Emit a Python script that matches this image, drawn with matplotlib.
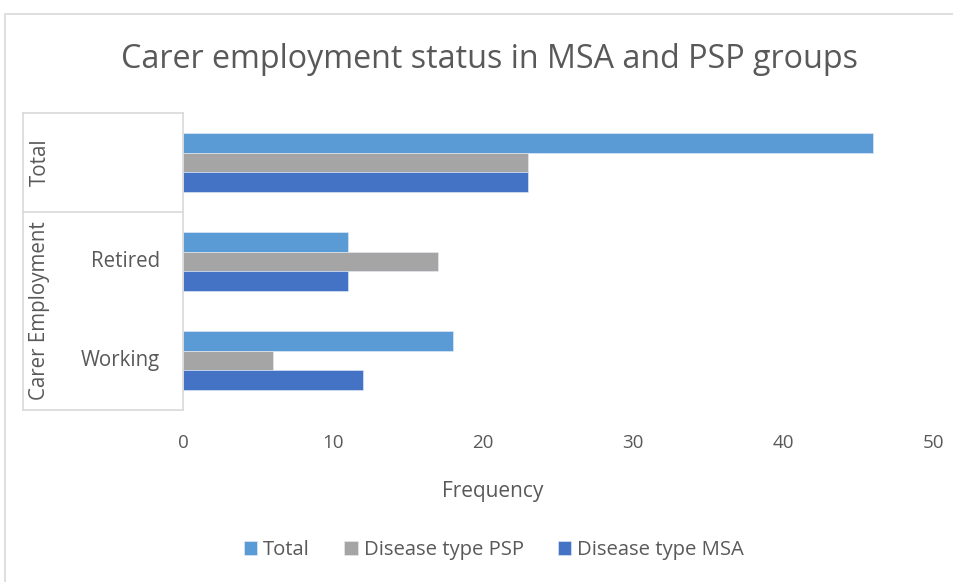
import numpy as np
import matplotlib.pyplot as plt
from matplotlib.lines import Line2D
from matplotlib.patches import Rectangle

# --- data ---
groups = ["Working", "Retired", "Total"]          # bottom to top
series = ["Total", "Disease type PSP", "Disease type MSA"]
total_vals = [18, 11, 46]
psp_vals = [6, 17, 23]
msa_vals = [12, 11, 23]
colors = ["#5b9bd5", "#a5a5a5", "#4472c4"]
xticks = [0, 10, 20, 30, 40, 50]

plt.rcParams['font.family'] = ['Open Sans', 'DejaVu Sans']
txt = "#595959"
grid = "#d9d9d9"

fig = plt.figure(figsize=(9.54, 5.82), dpi=100)
W, H = 954, 582
ax = fig.add_axes([183 / W, 1 - 410 / H, 750 / W, 297 / H])

y = np.arange(len(groups))
h = 0.2
offs = [h, 0, -h]
for vals, off, c, lab in zip([total_vals, psp_vals, msa_vals], offs, colors, series):
    ax.barh(y + off, vals, height=h, color=c, label=lab, edgecolor='#e8eef8', linewidth=0.4)

ax.set_xlim(0, 50)
ax.set_ylim(-0.5, 2.5)
ax.set_xticks(xticks)
ax.set_xticklabels([str(t) for t in xticks], fontsize=13.5, color=txt)
ax.tick_params(axis='x', length=0, pad=17)
ax.set_yticks([])
for s in ['top', 'right', 'bottom']:
    ax.spines[s].set_visible(False)
ax.spines['left'].set_color(grid)
ax.spines['left'].set_linewidth(1.2)

# multi-level category axis
trans = ax.get_yaxis_transform()
xl = -160 / 750
for yy in [-0.5, 1.5, 2.5]:
    ax.add_line(Line2D([xl, 0], [yy, yy], transform=trans, color=grid, lw=1.2, clip_on=False))
ax.add_line(Line2D([xl, xl], [-0.5, 2.5], transform=trans, color=grid, lw=1.2, clip_on=False))
for i, g in enumerate(groups[:2]):
    ax.text(-23 / 750, i, g, transform=trans, ha='right', va='center', fontsize=14.8, color=txt)
ax.text(xl + 17 / 750, 2, "Total", transform=trans, rotation=90, ha='center', va='center',
        fontsize=14.8, color=txt)
ax.text(xl + 17 / 750, 0.5, "Carer Employment", transform=trans, rotation=90, ha='center',
        va='center', fontsize=14.8, color=txt)

fig.text(490 / W, 1 - 60 / H, "Carer employment status in MSA and PSP groups",
         ha='center', va='center', fontsize=23.2, color=txt)
fig.text(493 / W, 1 - 492 / H, "Frequency", ha='center', va='center', fontsize=15, color=txt)

handles, labels = ax.get_legend_handles_labels()
fig.legend(handles, labels, loc='center', bbox_to_anchor=(494 / W, 1 - 550 / H), ncol=3,
           frameon=False, fontsize=14.6, labelcolor=txt, handlelength=0.65, handleheight=0.65,
           handletextpad=0.3, columnspacing=1.7)

# chart area border
fig.add_artist(Rectangle((5 / W, -0.1), 1.2, 1 - 14 / H + 0.1, transform=fig.transFigure,
                         fill=False, edgecolor=grid, lw=1.2))

fig.savefig("out.png", dpi=100)
